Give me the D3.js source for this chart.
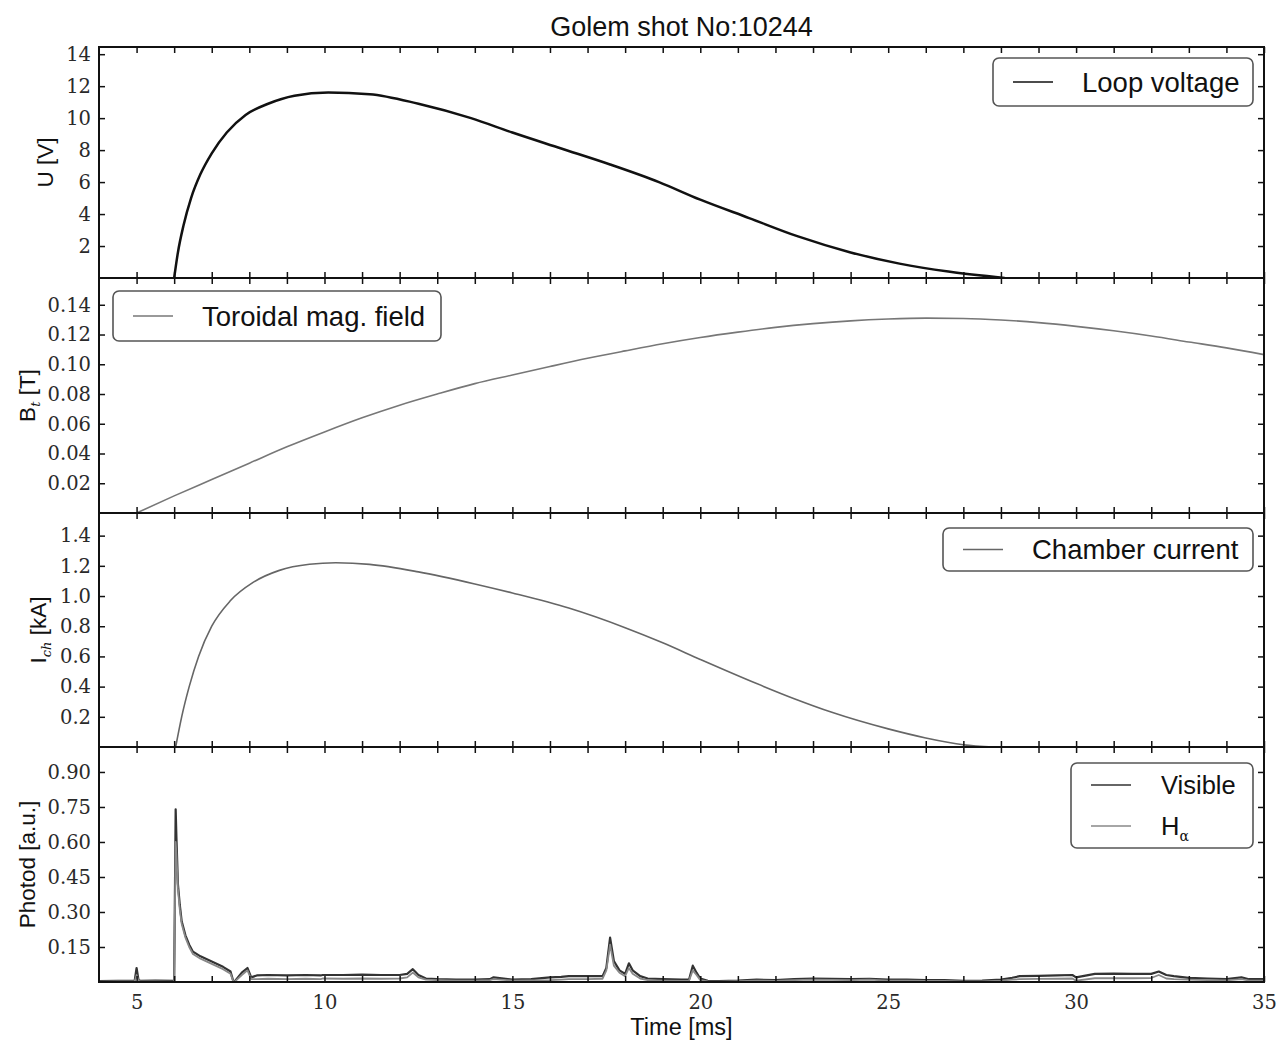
<!DOCTYPE html>
<html>
<head>
<meta charset="utf-8">
<script src="https://cdn.jsdelivr.net/npm/d3@7"></script>
<style>
  body { margin: 0; background: #fff; }
  .tick text { font-family: "DejaVu Serif", serif; font-size: 19.5px; fill: #2a2a2a; }
  .lab { font-family: "Liberation Sans", Arial, sans-serif; fill: #111; }
</style>
</head>
<body>
<div id="chart"></div>
<script>
/* Golem shot 10244 - four stacked diagnostic panels */

// Loop voltage [V]
const uTime  = [6.0, 6.1, 6.25, 6.45, 6.7, 7.0, 7.4, 7.9, 8.5, 9.2, 10.1, 11.2, 12.5, 13.9, 15.0, 16.3, 17.6, 18.9, 20.0, 21.3, 22.6, 24.0, 25.3, 26.6, 28.1];
const uValue = [0.0, 1.6, 3.3, 5.0, 6.5, 7.8, 9.1, 10.2, 10.9, 11.4, 11.6, 11.5, 10.9, 10.0, 9.1, 8.1, 7.1, 6.0, 4.9, 3.75, 2.6, 1.6, 0.9, 0.4, 0.0];

// Toroidal magnetic field [T]
const btTime  = [5, 6, 7, 8, 9, 10, 11, 12, 13, 14, 15, 16, 17, 18, 19, 20, 21, 22, 23, 24, 25, 26, 27, 28, 29, 30, 31, 32, 33, 34, 35];
const btValue = [0.0, 0.0115, 0.0225, 0.0335, 0.0445, 0.0545, 0.064, 0.0725, 0.08, 0.087, 0.0928, 0.0985, 0.104, 0.109, 0.1138, 0.118, 0.1216, 0.1248, 0.1273, 0.1292, 0.1304, 0.131, 0.1308, 0.1298, 0.128, 0.1255, 0.1225, 0.119, 0.115, 0.111, 0.1065];

// Chamber current [kA]
const ichTime  = [6.04, 6.2, 6.4, 6.65, 7.0, 7.5, 8.1, 8.8, 9.6, 10.3, 11.2, 12.5, 14.0, 15.0, 16.5, 18.0, 19.0, 20.0, 21.5, 22.5, 23.5, 25.0, 26.0, 27.0, 27.8];
const ichValue = [0.0, 0.2, 0.4, 0.6, 0.8, 0.97, 1.09, 1.17, 1.21, 1.22, 1.21, 1.16, 1.08, 1.02, 0.92, 0.79, 0.69, 0.58, 0.42, 0.32, 0.23, 0.12, 0.06, 0.015, 0.0];

// Photodiodes [a.u.]
const photoTime = [
  4.0, 4.5, 4.95, 5.0, 5.05, 5.1, 5.5, 6.0, 6.04, 6.06,
  6.1, 6.15, 6.2, 6.3, 6.4, 6.5, 6.7, 6.9, 7.1, 7.3,
  7.5, 7.58, 7.62, 7.8, 7.95, 8.05, 8.2, 8.5, 9.0, 9.5,
  9.9, 9.95, 10.5, 11.0, 11.5, 12.0, 12.2, 12.35, 12.5, 12.7,
  13.0, 13.5, 14.0, 14.4, 14.5, 15.0, 15.5, 16.0, 16.3, 16.5,
  17.0, 17.4, 17.5, 17.6, 17.7, 17.85, 18.0, 18.1, 18.2, 18.4,
  18.6, 19.0, 19.5, 19.7, 19.8, 19.9, 20.0, 20.2, 20.5, 21.0,
  21.5, 22.0, 22.5, 23.0, 23.5, 24.0, 24.5, 25.0, 25.5, 26.0,
  26.5, 27.0, 27.5, 28.0, 28.3, 28.5, 29.0, 29.5, 29.9, 30.0,
  30.5, 31.0, 31.5, 32.0, 32.2, 32.4, 32.6, 33.0, 33.5, 34.0,
  34.4, 34.6, 35.0];
const visibleValue = [
  0.004, 0.005, 0.006, 0.06, 0.01, 0.005, 0.006, 0.005, 0.74, 0.62,
  0.42, 0.33, 0.26, 0.2, 0.16, 0.13, 0.11, 0.095, 0.08, 0.065,
  0.045, 0.0, 0.005, 0.04, 0.06, 0.02, 0.028, 0.03, 0.028, 0.03,
  0.028, 0.03, 0.03, 0.032, 0.03, 0.03, 0.035, 0.055, 0.03, 0.015,
  0.012, 0.01, 0.01, 0.012, 0.02, 0.01, 0.012, 0.02, 0.022, 0.025,
  0.025, 0.025, 0.06, 0.19, 0.09, 0.05, 0.035, 0.08, 0.05, 0.025,
  0.015, 0.012, 0.01, 0.01, 0.07, 0.04, 0.015, 0.005, 0.004, 0.006,
  0.01, 0.008, 0.012, 0.015, 0.014, 0.012, 0.014, 0.01, 0.01, 0.008,
  0.008, 0.005, 0.006, 0.01, 0.018, 0.025, 0.026, 0.028, 0.03, 0.02,
  0.035, 0.036, 0.035, 0.035, 0.045, 0.03, 0.025, 0.018, 0.015, 0.012,
  0.02, 0.012, 0.012];
const halphaValue = [
  0.002, 0.003, 0.003, 0.03, 0.005, 0.003, 0.003, 0.002, 0.6, 0.55,
  0.40, 0.31, 0.25, 0.19, 0.15, 0.12, 0.1, 0.085, 0.07, 0.055,
  0.035, 0.0, 0.003, 0.03, 0.05, 0.012, 0.012, 0.014, 0.012, 0.014,
  0.012, 0.015, 0.014, 0.015, 0.014, 0.015, 0.02, 0.04, 0.02, 0.01,
  0.008, 0.006, 0.006, 0.008, 0.012, 0.006, 0.007, 0.008, 0.01, 0.012,
  0.012, 0.014, 0.05, 0.16, 0.07, 0.04, 0.025, 0.06, 0.035, 0.015,
  0.008, 0.006, 0.005, 0.006, 0.05, 0.03, 0.008, 0.003, 0.002, 0.004,
  0.006, 0.005, 0.008, 0.01, 0.009, 0.008, 0.01, 0.006, 0.006, 0.005,
  0.005, 0.003, 0.003, 0.006, 0.01, 0.012, 0.013, 0.014, 0.015, 0.006,
  0.016, 0.017, 0.016, 0.017, 0.03, 0.015, 0.012, 0.01, 0.008, 0.007,
  0.012, 0.006, 0.006];

// Tick values
const timeTicks  = d3.range(5, 36, 1);
const timeLabels = [5, 10, 15, 20, 25, 30, 35];
const uTicks   = [2, 4, 6, 8, 10, 12, 14];
const btTicks  = [0.02, 0.04, 0.06, 0.08, 0.10, 0.12, 0.14];
const ichTicks = [0.2, 0.4, 0.6, 0.8, 1.0, 1.2, 1.4];
const phTicks  = [0.15, 0.30, 0.45, 0.60, 0.75, 0.90];

// Page layout
const width = 1288, height = 1040;
const left = 99, right = 1264;
const bounds = [47, 278, 513, 747, 982];

const svg = d3.select("#chart").append("svg")
    .attr("width", width).attr("height", height)
    .attr("viewBox", [0, 0, width, height]);

const x = d3.scaleLinear().domain([4, 35]).range([left, right]);

const zip = (t, v) => t.map((d, i) => [d, v[i]]);

const panels = [
  { ymax: 14.45, ticks: uTicks, fmt: d3.format("d"), labX: 45,
    label: ["U [V]"],
    series: [{ data: zip(uTime, uValue), color: "#111", w: 2.5, name: "Loop voltage" }],
    legend: { side: "right", w: 260, h: 48, top: 11 } },
  { ymax: 0.158, ticks: btTicks, fmt: d3.format(".2f"), labX: 27,
    label: ["B", "t", " [T]"],
    series: [{ data: zip(btTime, btValue), color: "#777", w: 1.6, name: "Toroidal mag. field" }],
    legend: { side: "left", w: 328, h: 50, top: 13 } },
  { ymax: 1.55, ticks: ichTicks, fmt: d3.format(".1f"), labX: 38,
    label: ["I", "ch", " [kA]"],
    series: [{ data: zip(ichTime, ichValue), color: "#666", w: 1.6, name: "Chamber current" }],
    legend: { side: "right", w: 310, h: 43, top: 15 } },
  { ymax: 1.007, ticks: phTicks, fmt: d3.format(".2f"), labX: 27,
    label: ["Photod [a.u.]"],
    series: [
      { data: zip(photoTime, visibleValue), color: "#333", w: 2.2, name: "Visible" },
      { data: zip(photoTime, halphaValue), color: "#888", w: 1.8, name: "H", sub: "α" }],
    legend: { side: "right", w: 182, h: 85, top: 16 } }
];

panels.forEach((p, i) => {
  const top = bounds[i], bot = bounds[i + 1];
  const y = d3.scaleLinear().domain([0, p.ymax]).range([bot, top]);
  const g = svg.append("g");

  g.append("clipPath").attr("id", "clip" + i)
    .append("rect").attr("x", left).attr("y", top).attr("width", right - left).attr("height", bot - top);

  const line = d3.line().x(d => x(d[0])).y(d => y(d[1]));
  const curveLine = d3.line().x(d => x(d[0])).y(d => y(d[1])).curve(d3.curveMonotoneX);

  p.series.forEach(s => {
    g.append("path")
      .datum(s.data)
      .attr("clip-path", `url(#clip${i})`)
      .attr("fill", "none")
      .attr("stroke", s.color)
      .attr("stroke-width", s.w)
      .attr("stroke-linejoin", "round")
      .attr("d", i === 3 ? line : curveLine);
  });

  // axes with ticks pointing inward
  g.append("g").attr("transform", `translate(${left},0)`)
    .call(d3.axisLeft(y).tickValues(p.ticks).tickFormat(p.fmt).tickSize(-6).tickPadding(8));
  g.append("g").attr("transform", `translate(${right},0)`)
    .call(d3.axisRight(y).tickValues(p.ticks).tickFormat("").tickSize(-6));
  g.append("g").attr("transform", `translate(0,${top})`)
    .call(d3.axisTop(x).tickValues(timeTicks).tickFormat("").tickSize(-6));
  g.append("g").attr("transform", `translate(0,${bot})`)
    .call(d3.axisBottom(x).tickValues(timeTicks)
      .tickFormat(d => (i === 3 && timeLabels.includes(d)) ? d : "")
      .tickSize(-6).tickPadding(13));
  g.selectAll(".domain").remove();
  g.selectAll(".tick line").attr("stroke", "#111").attr("stroke-width", 1.5);

  g.append("rect")
    .attr("x", left).attr("y", top).attr("width", right - left).attr("height", bot - top)
    .attr("fill", "none").attr("stroke", "#111").attr("stroke-width", 2);

  // y label
  const lab = g.append("text").attr("class", "lab")
    .attr("transform", `translate(${p.labX},${(top + bot) / 2}) rotate(-90)`)
    .attr("text-anchor", "middle").attr("dy", "0.35em")
    .style("font-size", "22.5px");
  lab.append("tspan").text(p.label[0]);
  if (p.label.length > 1) {
    lab.append("tspan").text(p.label[1]).attr("font-style", "italic")
      .attr("font-family", "DejaVu Serif").style("font-size", "13px").attr("dy", "5");
    lab.append("tspan").text(p.label[2]).attr("dy", "-5");
  }

  // legend
  const L = p.legend;
  const lx = L.side === "right" ? right - 11 - L.w : left + 14;
  const ly = top + L.top;
  const leg = g.append("g").attr("transform", `translate(${lx},${ly})`);
  leg.append("rect").attr("width", L.w).attr("height", L.h).attr("rx", 6)
    .attr("fill", "#fff").attr("stroke", "#555").attr("stroke-width", 1.6);
  const rowH = p.series.length > 1 ? 41 : 0;
  p.series.forEach((s, k) => {
    const cy = (p.series.length > 1 ? 22 : L.h / 2) + k * rowH;
    leg.append("line").attr("x1", 20).attr("x2", 60).attr("y1", cy).attr("y2", cy)
      .attr("stroke", s.color).attr("stroke-width", 1.6);
    const t = leg.append("text").attr("class", "lab")
      .attr("x", p.series.length > 1 ? 90 : 89)
      .attr("y", cy).attr("dy", "0.36em")
      .style("font-size", p.series.length > 1 ? "25.5px" : "27.5px")
      .attr("fill", "#222");
    t.append("tspan").text(s.name);
    if (s.sub) t.append("tspan").text(s.sub).style("font-size", "14px")
      .attr("font-family", "DejaVu Serif").attr("dy", "6");
  });
});

// title and x label
svg.append("text").attr("class", "lab")
  .attr("x", (left + right) / 2).attr("y", 36)
  .attr("text-anchor", "middle").style("font-size", "27px")
  .text("Golem shot No:10244");

svg.append("text").attr("class", "lab")
  .attr("x", (left + right) / 2).attr("y", 1035)
  .attr("text-anchor", "middle").style("font-size", "23.5px")
  .text("Time [ms]");
</script>
</body>
</html>
